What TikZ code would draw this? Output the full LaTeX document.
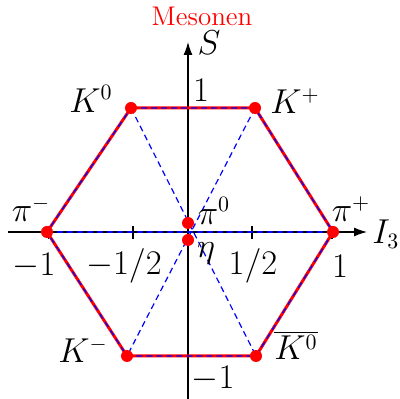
\documentclass[tikz,border=0pt]{standalone}
\usepackage{tikz}
\usetikzlibrary{arrows.meta}
\tikzset{
  axis/.style={line width=0.6pt, -{Latex[length=6.5pt,width=4.5pt]}},
  hexline/.style={red, line width=1.5pt, line join=round},
  dashline/.style={blue, dash pattern=on 3pt off 2pt, line width=0.6pt},
  teilchen/.style={red},
  lbl/.style={inner sep=0pt, font=\fontsize{16}{19}\selectfont},
}
\begin{document}
\begin{tikzpicture}[x=0.5pt, y=-0.5pt]
  \useasboundingbox (0,0) rectangle (400,399);

  % Achsen
  \coordinate (xl) at (8,232);
  \coordinate (xr) at (367,232);
  \coordinate (yb) at (188,399);
  \coordinate (yt) at (188,42);
  \draw[axis] (xl) -- (xr);
  \draw[axis] (yb) -- (yt);
  \foreach \tx in {48.5,133,252,332}
    \draw[line width=0.6pt] (\tx,226) -- (\tx,239);

  % Oktett
  \coordinate (K0)  at (131,108);
  \coordinate (Kp)  at (255,108);
  \coordinate (pip) at (333,232);
  \coordinate (Kb0) at (256,356);
  \coordinate (Km)  at (127,356);
  \coordinate (pim) at (47,232);
  \coordinate (pi0) at (188,223);
  \coordinate (eta) at (188,240);

  \draw[hexline] (K0) -- (Kp) -- (pip) -- (Kb0) -- (Km) -- (pim) -- cycle;
  \draw[dashline] (K0) -- (Kp) -- (pip) -- (Kb0) -- (Km) -- (pim) -- cycle;
  \draw[dashline] (K0) -- (Kb0);
  \draw[dashline] (Kp) -- (Km);
  \draw[dashline] (pim) -- (pip);

  \foreach \p in {K0,Kp,pip,Kb0,Km,pi0,eta,pim}
    \fill[teilchen] (\p) circle (6);

  % Beschriftung
  \node[red, inner sep=0pt, font=\fontsize{13.5}{15}\selectfont] (titel) at (202,16) {Mesonen};
  \node[lbl] (S) at (209,43) {$S$};
  \node[lbl, anchor=west] (I3) at (372,234) {$I_3$};
  \node[lbl] (y1) at (201,90) {$1$};
  \node[lbl] (ym1) at (213,379) {$-1$};
  \node[lbl] (xm1) at (34,266) {$-1$};
  \node[lbl] (xm12) at (124,266) {$-1/2$};
  \node[lbl] (x12) at (253,266) {$1/2$};
  \node[lbl] (x1) at (340,266) {$1$};
  \node[lbl] (lK0) at (91,99) {$K^0$};
  \node[lbl] (lKp) at (295,101) {$K^+$};
  \node[lbl] (lpim) at (31,209) {$\pi^-$};
  \node[lbl] (lpip) at (351,209) {$\pi^+$};
  \node[lbl] (lpi0) at (214,211) {$\pi^0$};
  \node[lbl] (leta) at (206,253) {$\eta$};
  \node[lbl] (lKm) at (83,350) {$K^-$};
  \node[lbl] (lKb0) at (296,345) {$\overline{K^0}$};
\end{tikzpicture}
\end{document}
